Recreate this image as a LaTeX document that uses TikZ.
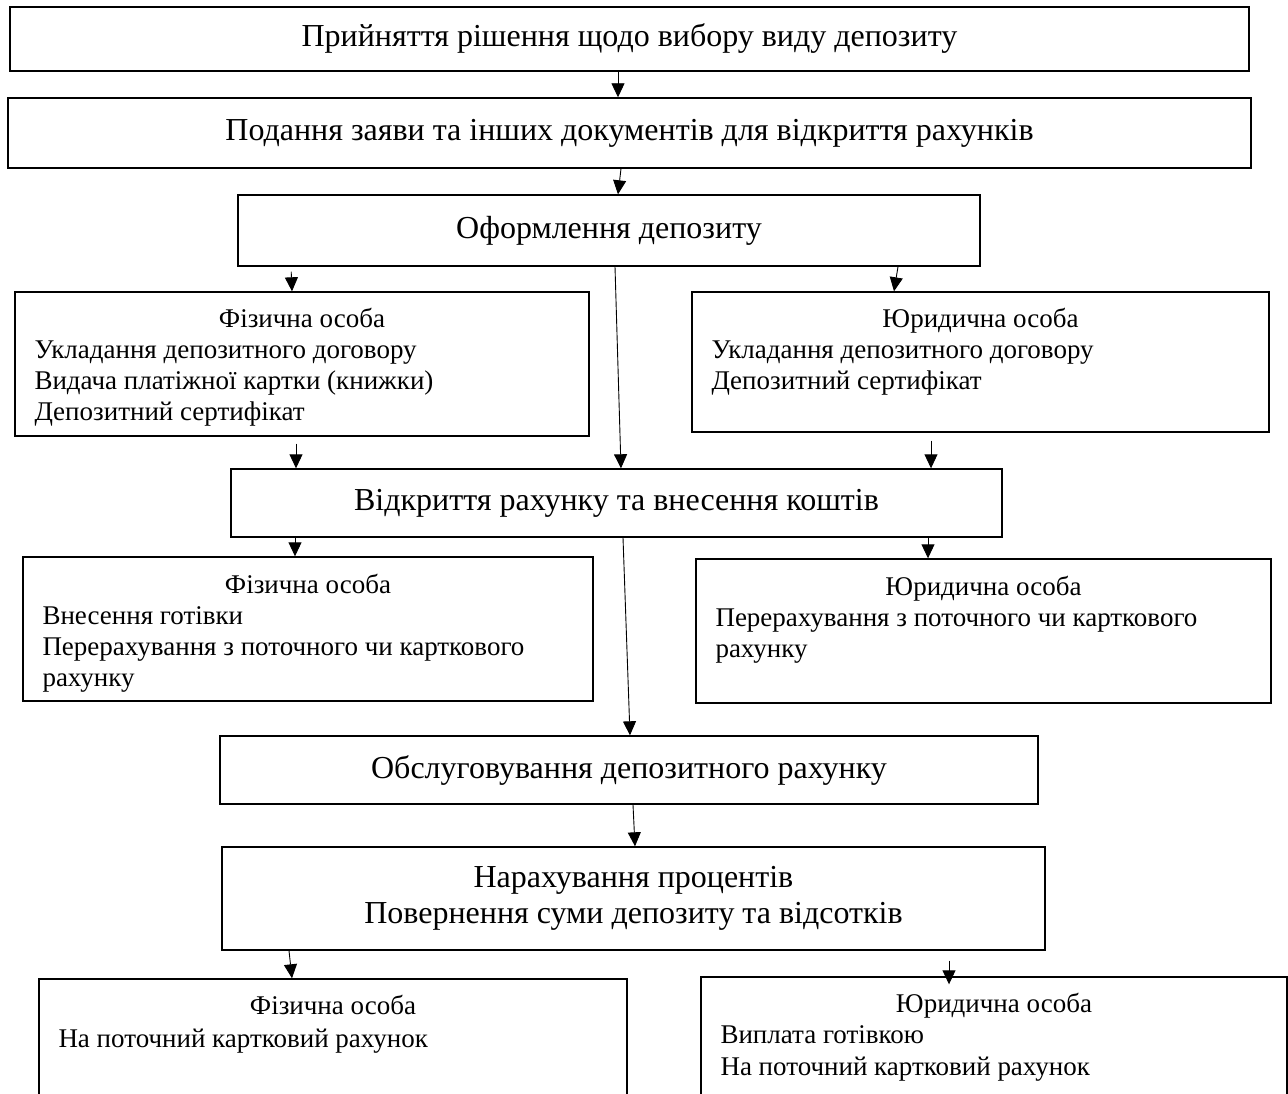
\documentclass[tikz,border=0pt]{standalone}
\usepackage{fontspec}
\setmainfont{Liberation Serif}
\usetikzlibrary{calc, arrows.meta}

\tikzset{
    box/.style={draw, line width=1.4pt, inner sep=0pt, font=\fontsize{32}{36}\selectfont},
    arr/.style={line width=0.9pt, -{Triangle[width=13pt, length=14pt]}},
    head/.style={anchor=base, inner sep=0pt, font=\fontsize{27}{31}\selectfont},
    item/.style={anchor=base west, inner sep=0pt, font=\fontsize{27}{31}\selectfont}
}

\begin{document}
\begin{tikzpicture}[x=1pt, y=-1pt]
        \useasboundingbox (0,0) rectangle (1288,1094);
        \clip (0,0) rectangle (1288,1094);

        % main steps
        \node[box, minimum width=1239, minimum height=64] (choice) at (629.5,39) {Прийняття рішення щодо вибору виду депозиту};
        \node[box, minimum width=1243, minimum height=70] (apply) at (629.5,133) {Подання заяви та інших документів для відкриття рахунків};
        \node[box, minimum width=742, minimum height=71] (issue) at (609,230.5) {Оформлення депозиту};
        \node[box, minimum width=771, minimum height=68] (open) at (616.5,503) {Відкриття рахунку та внесення коштів};
        \node[box, minimum width=818, minimum height=68] (serve) at (629,770) {Обслуговування депозитного рахунку};
        \node[box, minimum width=823, minimum height=103, align=center] (interest) at (633.5,898.5) {Нарахування процентів\\Повернення суми депозиту та відсотків};

        % side boxes
        \node[box, minimum width=574, minimum height=144] (fizA) at (302,364) {};
        \node[box, minimum width=577, minimum height=140] (jurA) at (980.5,362) {};
        \node[box, minimum width=570, minimum height=144] (fizB) at (308,629) {};
        \node[box, minimum width=575, minimum height=144] (jurB) at (983.5,631) {};
        \node[box, minimum width=588, minimum height=171] (fizC) at (333,1064.5) {};
        \node[box, minimum width=586, minimum height=173] (jurC) at (994,1063.5) {};

        \node[head] (fizAh) at ($(fizA.north)+(0,36)$) {Фізична особа};
        \node[item] (fizA1) at ($(fizA.north west)+(20,67)$) {Укладання депозитного договору};
        \node[item] (fizA2) at ($(fizA.north west)+(20,98)$) {Видача платіжної картки (книжки)};
        \node[item] (fizA3) at ($(fizA.north west)+(20,129)$) {Депозитний сертифікат};

        \node[head] (jurAh) at ($(jurA.north)+(0,36)$) {Юридична особа};
        \node[item] (jurA1) at ($(jurA.north west)+(20,67)$) {Укладання депозитного договору};
        \node[item] (jurA2) at ($(jurA.north west)+(20,98)$) {Депозитний сертифікат};

        \node[head] (fizBh) at ($(fizB.north)+(0,37)$) {Фізична особа};
        \node[item] (fizB1) at ($(fizB.north west)+(20,68)$) {Внесення готівки};
        \node[item] (fizB2) at ($(fizB.north west)+(20,99)$) {Перерахування з поточного чи карткового};
        \node[item] (fizB3) at ($(fizB.north west)+(20,130)$) {рахунку};

        \node[head] (jurBh) at ($(jurB.north)+(0,37)$) {Юридична особа};
        \node[item] (jurB1) at ($(jurB.north west)+(20,68)$) {Перерахування з поточного чи карткового};
        \node[item] (jurB2) at ($(jurB.north west)+(20,99)$) {рахунку};

        \node[head] (fizCh) at ($(fizC.north)+(0,36)$) {Фізична особа};
        \node[item] (fizC1) at ($(fizC.north west)+(20,69)$) {На поточний картковий рахунок};

        \node[head] (jurCh) at ($(jurC.north)+(0,36)$) {Юридична особа};
        \node[item] (jurC1) at ($(jurC.north west)+(20,67)$) {Виплата готівкою};
        \node[item] (jurC2) at ($(jurC.north west)+(20,99)$) {На поточний картковий рахунок};

        % arrows
        \draw[arr] ([xshift=-11.5]choice.south) -- ([xshift=-11.5]apply.north);
        \draw[arr] ([xshift=-8.5]apply.south) -- ([xshift=9]issue.north);
        \draw[arr, shorten <=5pt] ([xshift=-318]issue.south) -- ([xshift=-10]fizA.north);
        \draw[arr] ([xshift=289]issue.south) -- ([xshift=-86.5]jurA.north);
        \draw[arr] ([xshift=6]issue.south) -- ([xshift=4.5]open.north);
        \draw[arr, shorten <=7pt] ([xshift=-6]fizA.south) -- ([xshift=-320.5]open.north);
        \draw[arr, shorten <=8pt] ([xshift=-49.5]jurA.south) -- ([xshift=314.5]open.north);
        \draw[arr] ([xshift=-321.5]open.south) -- ([xshift=-13]fizB.north);
        \draw[arr] ([xshift=311.5]open.south) -- ([xshift=-55.5]jurB.north);
        \draw[arr] ([xshift=6.5]open.south) -- ([xshift=1]serve.north);
        \draw[arr] ([xshift=4]serve.south) -- ([xshift=1.5]interest.north);
        \draw[arr] ([xshift=-344.5]interest.south) -- ([xshift=-41]fizC.north);
        \draw[arr, shorten <=10pt, shorten >=-8pt] ([xshift=315.5]interest.south) -- ([xshift=-45]jurC.north);
\end{tikzpicture}
\end{document}
